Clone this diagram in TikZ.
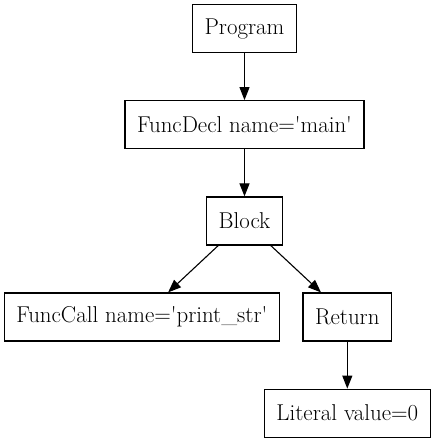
\documentclass[tikz,border=0pt]{standalone}
\usepackage{fontspec}
\setmainfont{Latin Modern Roman}
\usetikzlibrary{arrows.meta}
\begin{document}
\begin{tikzpicture}[x=1pt,y=-1pt,
  treenode/.style={draw, line width=1.2pt, inner xsep=12pt, inner ysep=0pt, minimum height=48pt, font=\fontsize{22.9}{27}\selectfont},
  edge/.style={line width=1.1pt, -{Triangle[length=13pt,width=10pt]}}]
\useasboundingbox (0,0) rectangle (438,443);
\node[treenode] (prog) at (244.5,28.8) {Program};
\node[treenode] (fdecl) at (244.5,124.7) {FuncDecl name=\textquotesingle main\textquotesingle};
\node[treenode] (block) at (244.5,221) {Block};
\node[treenode] (fcall) at (141.8,317) {FuncCall name=\textquotesingle print\_str\textquotesingle};
\node[treenode] (ret) at (347.3,317) {Return};
\node[treenode] (lit) at (347.3,413.2) {Literal value=0};
\draw[edge] (prog) -- (fdecl);
\draw[edge] (fdecl) -- (block);
\draw[edge] (block) -- (fcall);
\draw[edge] (block) -- (ret);
\draw[edge] (ret) -- (lit);
\end{tikzpicture}
\end{document}
